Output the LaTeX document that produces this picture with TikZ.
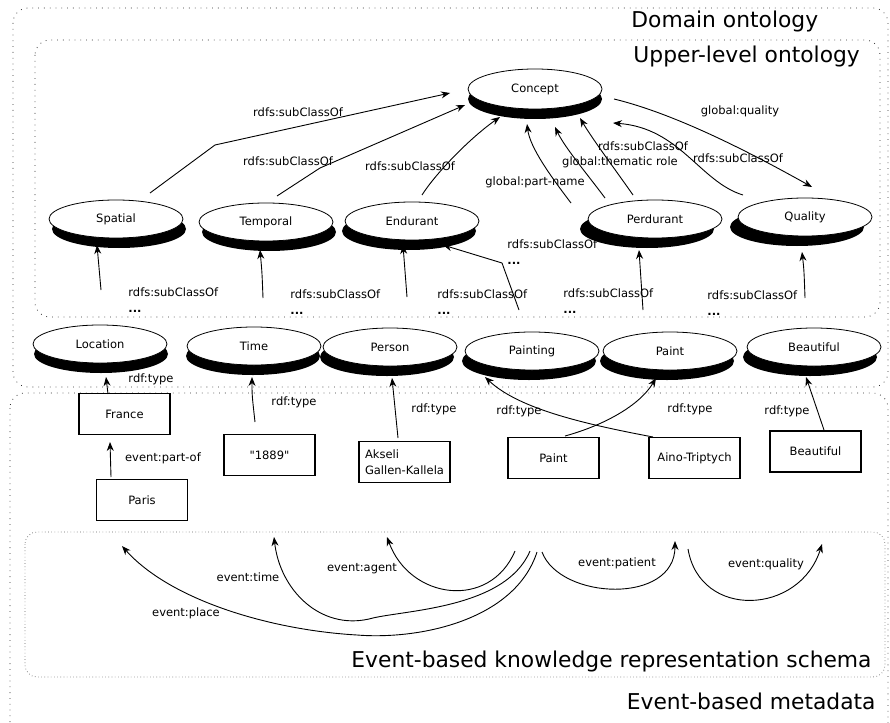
\documentclass[tikz,border=0pt]{standalone}
\usepackage{fontspec}
\setmainfont{DejaVu Sans}
\usepackage{tikz}
\usetikzlibrary{arrows.meta,shadows,shapes.geometric}
\newcommand{\relsize}{\fontsize{11.5pt}{16pt}\selectfont}
\newcommand{\headsize}{\fontsize{21.8pt}{26pt}\selectfont}
\tikzset{concept/.style={ellipse,draw=black,line width=0.8pt,fill=white,inner sep=0pt,
    minimum width=134pt,minimum height=38pt,font=\relsize,
    drop shadow={shadow xshift=#1,shadow yshift=-10pt,fill=black,opacity=1}},
  concept/.default=0pt}
\tikzstyle{instance}=[rectangle,draw=black,line width=1.4pt,fill=white,inner sep=0pt,minimum width=91pt,minimum height=41pt,font=\relsize]
\tikzstyle{rel}=[inner sep=0pt,font=\relsize]
\tikzstyle{heading}=[inner sep=0pt,font=\headsize]
\tikzstyle{region}=[draw=black!80,line width=0.8pt,dash pattern=on 0.8pt off 5pt,rounded corners=15pt]

\begin{document}
\begin{tikzpicture}[x=1pt,y=-1pt,line width=0.9pt,>={Stealth[length=9pt,width=7pt]}]
        \useasboundingbox (0,0) rectangle (890,722);

        % dotted regions
        \draw [region] (13,8) rectangle (888,387);
        \draw [region] (35,40) rectangle (880,317);
        \draw [region] (10,393) rectangle (888,745);
        \draw [region,draw=black!60,dash pattern=on 0.6pt off 2.6pt,rounded corners=12pt] (25,532) rectangle (885,677);

        \node at (631,28) [heading,anchor=base west] (h-domain) {Domain ontology};
        \node at (633,63) [heading,anchor=base west] (h-upper) {Upper-level ontology};
        \node at (872,667) [heading,anchor=base east] (h-schema) {Event-based knowledge representation schema};
        \node at (876,709) [heading,anchor=base east] (h-meta) {Event-based metadata};

        % upper-level concepts
        \node at (535,89)  [concept,minimum height=40pt] (concept) {Concept};
        \node at (116,219) [concept=3pt]  (spatial)   {Spatial};
        \node at (266,222) [concept=3pt]  (temporal)  {Temporal};
        \node at (412,221) [concept=-3pt] (endurant)  {Endurant};
        \node at (655,219) [concept=-8pt] (perdurant) {Perdurant};
        \node at (805,217) [concept=-8pt] (quality)   {Quality};

        % domain concepts
        \node at (100,344) [concept=1pt]  (location)  {Location};
        \node at (254,346) [concept=-1pt] (time)      {Time};
        \node at (390,347) [concept=-3pt] (person)    {Person};
        \node at (532,351) [concept=-3pt] (painting)  {Painting};
        \node at (670,351) [concept=-3pt] (paint)     {Paint};
        \node at (814,347) [concept=-4pt] (beautiful) {Beautiful};

        % instances
        \node at (124.5,414) [instance] (france)   {France};
        \node at (142,500)   [instance] (paris)    {Paris};
        \node at (269.5,455) [instance] (year)     {\textquotedbl 1889\textquotedbl};
        \node at (404.5,462) [instance,align=left] (akseli) {Akseli\\Gallen-Kallela};
        \node at (553.5,458) [instance] (paintbox) {Paint};
        \node at (694.5,458) [instance] (aino)     {Aino-Triptych};
        \node at (815.5,451.5) [instance] (beautbox) {Beautiful};

        % upper-level relations
        \draw [->] ([shift={(34,-26)}]spatial.center) -- (215,145) -- ([shift={(-85,4)}]concept.center);
        \draw [->] ([shift={(11,-26)}]temporal.center) -- (320,168) -- ([shift={(-70,16)}]concept.center);
        \draw [->] ([shift={(10,-26)}]endurant.center) .. controls (436,173) and (470,138) .. ([shift={(-35,28)}]concept.center);
        \draw [->] ([shift={(-84,-16)}]perdurant.center) .. controls (552,178) and (530,148) .. ([shift={(-8,35)}]concept.center);
        \draw [->] ([shift={(-50,-21)}]perdurant.center) .. controls (588,175) and (565,148) .. ([shift={(20,38)}]concept.center);
        \draw [->] ([shift={(-22,-24)}]perdurant.center) .. controls (617,172) and (593,140) .. ([shift={(45,29)}]concept.center);
        \draw [->] ([shift={(-62,-22)}]quality.center) .. controls (700,182) and (680,128) .. ([shift={(78,34)}]concept.center);
        \draw [->] ([shift={(79,10)}]concept.center) .. controls (680,115) and (760,158) .. ([shift={(7,-30)}]quality.center);

        \node at (298,112) [rel] (r-spatial)   {rdfs:subClassOf};
        \node at (288,161) [rel] (r-temporal)  {rdfs:subClassOf};
        \node at (410,166) [rel] (r-endurant)  {rdfs:subClassOf};
        \node at (535,182) [rel] (r-partname)  {global:part-name};
        \node at (620,162) [rel] (r-thematic)  {global:thematic role};
        \node at (643,146) [rel] (r-perdurant) {rdfs:subClassOf};
        \node at (738,158) [rel] (r-quality)   {rdfs:subClassOf};
        \node at (740,111) [rel] (r-global)    {global:quality};

        % open sub-classes
        \coordinate (s-spatial)   at (101,290);
        \coordinate (s-temporal)  at (263,298);
        \coordinate (s-endurant)  at (407,297);
        \coordinate (s-other)     at (519,310);
        \coordinate (s-perdurant) at (643,310);
        \coordinate (s-quality)   at (805,298);

        \draw [->] (s-spatial) -- ([shift={(-19,26)}]spatial.center);
        \draw [->] (s-temporal) .. controls (262,272) .. ([shift={(-6,28)}]temporal.center);
        \draw [->] (s-endurant) -- ([shift={(-9,24)}]endurant.center);
        \draw [->] (s-other) -- (502,263) -- ([shift={(31,24)}]endurant.center);
        \draw [->] (s-perdurant) -- ([shift={(-16,31)}]perdurant.center);
        \draw [->] (s-quality) .. controls (804,270) .. ([shift={(-3,35)}]quality.center);

        \node at (128,300) [rel,align=left,anchor=west] (d-spatial)   {rdfs:subClassOf\\\textbf{...}};
        \node at (290,302) [rel,align=left,anchor=west] (d-temporal)  {rdfs:subClassOf\\\textbf{...}};
        \node at (437,302) [rel,align=left,anchor=west] (d-endurant)  {rdfs:subClassOf\\\textbf{...}};
        \node at (507,252) [rel,align=left,anchor=west] (d-other)     {rdfs:subClassOf\\\textbf{...}};
        \node at (563,301) [rel,align=left,anchor=west] (d-perdurant) {rdfs:subClassOf\\\textbf{...}};
        \node at (707,303) [rel,align=left,anchor=west] (d-quality)   {rdfs:subClassOf\\\textbf{...}};

        % types
        \draw [->] ([shift={(-16.5,-20)}]france.center) -- ([shift={(6,33)}]location.center);
        \draw [->] ([shift={(-14.5,-33)}]year.center) .. controls (252,395) .. ([shift={(-2,31)}]time.center);
        \draw [->] ([shift={(-6.5,-24)}]akseli.center) -- ([shift={(2,31)}]person.center);
        \draw [->] ([shift={(-41.5,-21)}]aino.center) .. controls (590,425) and (520,410) .. ([shift={(-47,26)}]painting.center);
        \draw [->] ([shift={(11.5,-22)}]paintbox.center) .. controls (605,425) and (640,405) .. ([shift={(-14,27)}]paint.center);
        \draw [->] ([shift={(8.5,-21.5)}]beautbox.center) -- ([shift={(-8,30)}]beautiful.center);
        \draw [->] ([shift={(-31,-23)}]paris.center) -- ([shift={(-14.5,28)}]france.center);

        \node at (151,379) [rel] (t-france)    {rdf:type};
        \node at (294,402) [rel] (t-year)      {rdf:type};
        \node at (434,409) [rel] (t-akseli)    {rdf:type};
        \node at (519,411) [rel] (t-aino)      {rdf:type};
        \node at (690,409) [rel] (t-paint)     {rdf:type};
        \node at (787,411) [rel] (t-beautiful) {rdf:type};
        \node at (163,458) [rel] (t-partof)    {event:part-of};

        % event schema
        \coordinate (e-place)   at (537,552);
        \coordinate (e-time)    at (530,551);
        \coordinate (e-agent)   at (515,551);
        \coordinate (e-patient) at (542,552);
        \coordinate (e-quality) at (688,549);
        \coordinate (p-place)   at (122,546);
        \coordinate (p-time)    at (274,537);
        \coordinate (p-agent)   at (387,537);
        \coordinate (p-patient) at (675,541);
        \coordinate (p-quality) at (822,544);

        \draw [->] (e-place) .. controls (515,620) and (420,640) .. (357,635) .. controls (270,630) and (170,600) .. (p-place);
        \draw [->] (e-time) .. controls (505,610) and (400,610) .. (369,619) .. controls (320,630) and (280,590) .. (p-time);
        \draw [->] (e-agent) .. controls (490,610) and (410,600) .. (p-agent);
        \draw [->] (e-patient) .. controls (560,600) and (675,605) .. (p-patient);
        \draw [->] (e-quality) .. controls (700,620) and (800,615) .. (p-quality);

        \node at (186,613) [rel] (v-place)   {event:place};
        \node at (248,577) [rel] (v-time)    {event:time};
        \node at (362,569) [rel] (v-agent)   {event:agent};
        \node at (617,563) [rel] (v-patient) {event:patient};
        \node at (766,564) [rel] (v-quality) {event:quality};
      \end{tikzpicture}
\end{document}
